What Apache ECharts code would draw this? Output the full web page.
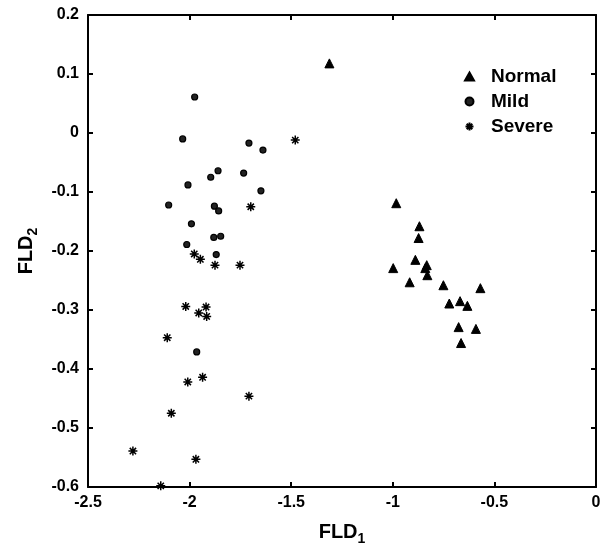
<!DOCTYPE html>
<html>
<head>
<meta charset="utf-8">
<script src="https://cdn.jsdelivr.net/npm/echarts@6/dist/echarts.min.js"></script>
<style>
  html, body { margin: 0; padding: 0; background: #fff; }
  #container { width: 600px; height: 548px; }
</style>
</head>
<body>
<div id="container"></div>
<script>
// FLD1 / FLD2 values
var normalPts = [
    [-1.312, 0.118], [-0.983, -0.119], [-0.869, -0.158], [-0.873, -0.178],
    [-0.998, -0.229], [-0.889, -0.215], [-0.833, -0.224], [-0.840, -0.229],
    [-0.830, -0.241], [-0.917, -0.253], [-0.751, -0.258], [-0.569, -0.263],
    [-0.722, -0.289], [-0.669, -0.285], [-0.633, -0.293], [-0.676, -0.329],
    [-0.591, -0.332], [-0.664, -0.356]
];
var mildPts = [
    [-1.975, 0.061], [-2.034, -0.010], [-1.708, -0.017], [-1.639, -0.029],
    [-1.860, -0.064], [-1.896, -0.075], [-1.734, -0.068], [-2.008, -0.088],
    [-1.649, -0.098], [-2.103, -0.122], [-1.878, -0.124], [-1.857, -0.132],
    [-1.991, -0.154], [-1.881, -0.177], [-1.847, -0.175], [-2.014, -0.189],
    [-1.869, -0.206], [-1.965, -0.371]
];
var severePts = [
    [-1.480, -0.012], [-1.699, -0.125], [-1.977, -0.205], [-1.947, -0.214],
    [-1.875, -0.224], [-1.752, -0.224], [-2.019, -0.294], [-1.919, -0.295],
    [-1.955, -0.305], [-1.916, -0.311], [-2.110, -0.347], [-1.936, -0.414],
    [-2.009, -0.422], [-1.708, -0.446], [-2.090, -0.475], [-2.279, -0.539],
    [-1.969, -0.553], [-2.142, -0.598]
];
var seriesNames = ['Normal', 'Mild', 'Severe'];

var FONT = "'Liberation Sans', Arial, sans-serif";
var asterisk = 'path://M5,0L5,10M0,5L10,5M1.5,1.5L8.5,8.5M8.5,1.5L1.5,8.5';

var myChart = echarts.init(document.getElementById('container'));

function boxAxis(pos, min, max, interval, showLabel) {
    return {
        type: 'value',
        position: pos,
        min: min,
        max: max,
        interval: interval,
        axisLine: { show: true, onZero: false, lineStyle: { color: '#000', width: 2 } },
        axisTick: { show: true, inside: true, length: 5, lineStyle: { color: '#000', width: 2 } },
        axisLabel: {
            show: showLabel,
            color: '#000',
            fontFamily: FONT,
            fontWeight: 'bold',
            fontSize: 16,
            margin: 9
        },
        splitLine: { show: false }
    };
}

var subStyle = {
    rich: {
        a: { fontFamily: FONT, fontWeight: 'bold', fontSize: 20, color: '#000' },
        b: { fontFamily: FONT, fontWeight: 'bold', fontSize: 14, color: '#000', padding: [14, 0, 0, 0] }
    }
};

var xBottom = boxAxis('bottom', -2.5, 0, 0.5, true);
xBottom.axisLabel.margin = 8;
xBottom.name = '{a|FLD}{b|1}';
xBottom.nameLocation = 'middle';
xBottom.nameGap = 31;
xBottom.nameTextStyle = subStyle;
var xTop = boxAxis('top', -2.5, 0, 0.5, false);

var yLeft = boxAxis('left', -0.6, 0.2, 0.1, true);
yLeft.name = '{a|FLD}{b|2}';
yLeft.nameLocation = 'middle';
yLeft.nameGap = 40;
yLeft.nameRotate = 90;
yLeft.nameTextStyle = subStyle;
var yRight = boxAxis('right', -0.6, 0.2, 0.1, false);

var option = {
    backgroundColor: '#fff',
    animation: false,
    grid: { left: 88, right: 4, top: 15, bottom: 61, outerBoundsMode: 'none', containLabel: false },
    legend: {
        orient: 'vertical',
        left: 459,
        top: 62,
        itemWidth: 9,
        itemHeight: 8,
        itemGap: 6,
        textStyle: { fontFamily: FONT, fontWeight: 'bold', fontSize: 19, color: '#000', padding: [0, 0, 0, 12] },
        data: seriesNames
    },
    xAxis: [xBottom, xTop],
    yAxis: [yLeft, yRight],
    series: [
        {
            name: seriesNames[0],
            type: 'scatter',
            symbol: 'triangle',
            symbolSize: 9,
            itemStyle: { color: '#000', borderColor: '#000', borderWidth: 1, opacity: 1 },
            data: normalPts
        },
        {
            name: seriesNames[1],
            type: 'scatter',
            symbol: 'circle',
            symbolSize: 6,
            itemStyle: { color: '#222', borderColor: '#000', borderWidth: 1.2, opacity: 1 },
            data: mildPts
        },
        {
            name: seriesNames[2],
            type: 'scatter',
            symbol: asterisk,
            symbolSize: 9,
            itemStyle: { color: 'transparent', borderColor: '#000', borderWidth: 1.5, opacity: 1 },
            data: severePts
        }
    ]
};
myChart.setOption(option);
</script>
</body>
</html>
